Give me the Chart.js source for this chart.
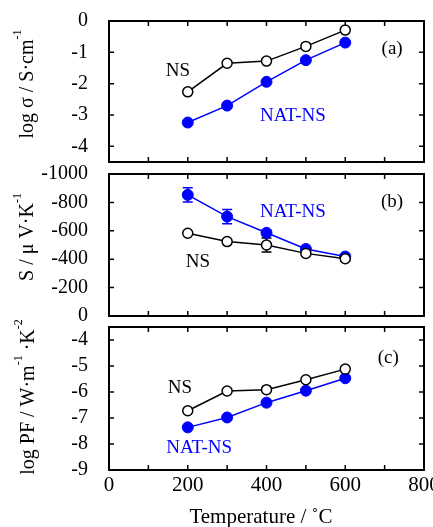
<!DOCTYPE html>
<html>
<head>
<meta charset="utf-8">
<script src="https://cdn.jsdelivr.net/npm/chart.js@4/dist/chart.umd.min.js"></script>
<style>
    html, body { margin: 0; padding: 0; background: #fff; }
    #wrap { position: relative; width: 433px; height: 527px; overflow: hidden; background: #fff; }
    canvas { position: absolute; left: 0; }
</style>
</head>
<body>
<div id="wrap">
    <canvas id="chartA" width="460" height="190" style="top:0px"></canvas>
    <canvas id="chartB" width="460" height="190" style="top:150px"></canvas>
    <canvas id="chartC" width="460" height="227" style="top:300px"></canvas>
</div>
<script>
const FONT = "'Liberation Serif', 'Times New Roman', serif";
const BLUE = '#0000ff';

// data
const temps = [200, 300, 400, 500, 600];
const sigmaNS = [-2.26, -1.35, -1.28, -0.81, -0.29];
const sigmaNAT = [-3.24, -2.70, -1.94, -1.25, -0.69];
const seebeckNS = [-583, -524, -500, -441, -403];
const seebeckNSErr = [0, 0, 50, 0, 15];
const seebeckNAT = [-853, -700, -586, -472, -419];
const seebeckNATErr = [50, 50, 18, 0, 0];
const pfNS = [-6.72, -5.96, -5.91, -5.53, -5.12];
const pfNAT = [-7.36, -6.98, -6.41, -5.95, -5.47];

// axes
const xTickLabels = [0, 200, 400, 600, 800];
const xMinorTicks = [0, 100, 200, 300, 400, 500, 600, 700, 800];
const sigmaTicks = [0, -1, -2, -3, -4];
const seebeckTicks = [0, -200, -400, -600, -800, -1000];
const pfTicks = [-4, -5, -6, -7, -8, -9];

Chart.defaults.color = '#000';
Chart.defaults.font.family = FONT;

const toPoints = (ys) => temps.map((t, i) => ({ x: t, y: ys[i] }));

// frame with inward ticks on all four sides
const framePlugin = {
    id: 'frame',
    afterDraw(chart, args, opts) {
        const { ctx, chartArea: a, scales: { x, y } } = chart;
        const len = 5;
        ctx.save();
        ctx.strokeStyle = '#000';
        ctx.lineWidth = 1.5;
        ctx.beginPath();
        xMinorTicks.forEach(v => {
            const px = x.getPixelForValue(v);
            ctx.moveTo(px, a.bottom); ctx.lineTo(px, a.bottom - len);
            ctx.moveTo(px, a.top); ctx.lineTo(px, a.top + len);
        });
        (opts.yTicks || []).forEach(v => {
            const py = y.getPixelForValue(v);
            ctx.moveTo(a.left, py); ctx.lineTo(a.left + len, py);
            ctx.moveTo(a.right, py); ctx.lineTo(a.right - len, py);
        });
        ctx.stroke();
        ctx.lineWidth = 2;
        ctx.strokeRect(a.left, a.top, a.width, a.height);
        ctx.restore();
    }
};

const errorPlugin = {
    id: 'errorBars',
    beforeDatasetsDraw(chart, args, opts) {
        const { ctx, scales: { x, y } } = chart;
        (opts.errors || []).forEach((errs, di) => {
            if (!errs) return;
            const ds = chart.data.datasets[di];
            ctx.save();
            ctx.strokeStyle = ds.borderColor;
            ctx.lineWidth = 1.5;
            ctx.beginPath();
            errs.forEach((e, j) => {
                if (!e) return;
                const px = x.getPixelForValue(temps[j]);
                const v = ds.data[j].y;
                const y1 = y.getPixelForValue(v - e);
                const y2 = y.getPixelForValue(v + e);
                ctx.moveTo(px, y1); ctx.lineTo(px, y2);
                ctx.moveTo(px - 5, y1); ctx.lineTo(px + 5, y1);
                ctx.moveTo(px - 5, y2); ctx.lineTo(px + 5, y2);
            });
            ctx.stroke();
            ctx.restore();
        });
    }
};

function drawRotated(ctx, parts, cx, cy, size) {
    ctx.save();
    ctx.translate(cx, cy);
    ctx.rotate(-Math.PI / 2);
    ctx.textBaseline = 'middle';
    ctx.textAlign = 'left';
    const fontOf = p => `${p.sup ? Math.round(size * 0.62) : size}px ${FONT}`;
    let total = 0;
    parts.forEach(p => { ctx.font = fontOf(p); total += ctx.measureText(p.t).width; });
    let px = -total / 2;
    parts.forEach(p => {
        ctx.font = fontOf(p);
        ctx.fillText(p.t, px, p.sup ? -size * 0.5 : 0);
        px += ctx.measureText(p.t).width;
    });
    ctx.restore();
}

// texts: series names, panel letters, axis titles
const notesPlugin = {
    id: 'notes',
    afterDraw(chart, args, opts) {
        const { ctx, scales: { x, y } } = chart;
        ctx.save();
        ctx.textAlign = 'center';
        ctx.textBaseline = 'middle';
        ctx.font = `19px ${FONT}`;
        (opts.items || []).forEach(it => {
            ctx.fillStyle = it.color || '#000';
            ctx.fillText(it.text, x.getPixelForValue(it.x), y.getPixelForValue(it.y));
        });
        if (opts.yTitle) {
            ctx.fillStyle = '#000';
            drawRotated(ctx, opts.yTitle.parts, opts.yTitle.cx, opts.yTitle.cy, 20);
        }
        if (opts.xTitle) {
            ctx.fillStyle = '#000';
            ctx.font = `21px ${FONT}`;
            ctx.fillText(opts.xTitle.text, opts.xTitle.cx, opts.xTitle.cy);
        }
        ctx.restore();
    }
};

function makePanel(id, cfg) {
    const showX = !!cfg.showX;
    new Chart(document.getElementById(id), {
        type: 'line',
        data: {
            datasets: [
                {
                    label: 'NS',
                    data: toPoints(cfg.ns),
                    borderColor: '#000',
                    backgroundColor: '#fff',
                    pointBackgroundColor: '#fff',
                    pointBorderColor: '#000',
                    pointBorderWidth: 1.5,
                    pointRadius: 5,
                    borderWidth: 1.5,
                    tension: 0
                },
                {
                    label: 'NAT-NS',
                    data: toPoints(cfg.nat),
                    borderColor: BLUE,
                    backgroundColor: BLUE,
                    pointBackgroundColor: BLUE,
                    pointBorderColor: BLUE,
                    pointBorderWidth: 1,
                    pointRadius: 5.5,
                    borderWidth: 1.5,
                    tension: 0
                }
            ]
        },
        options: {
            responsive: false,
            animation: false,
            events: [],
            layout: { padding: cfg.padding },
            scales: {
                x: {
                    type: 'linear',
                    min: 0,
                    max: 800,
                    display: showX,
                    grid: { display: false, drawTicks: false },
                    border: { display: false },
                    afterBuildTicks: s => { s.ticks = xTickLabels.map(v => ({ value: v })); },
                    afterFit: s => {
                        if (showX) s.height = 57;
                        s.paddingLeft = 0; s.paddingRight = 0;
                    },
                    ticks: { font: { size: 21 }, padding: 3, maxRotation: 0, callback: v => String(v) }
                },
                y: {
                    type: 'linear',
                    min: cfg.yMin,
                    max: cfg.yMax,
                    reverse: !!cfg.reverse,
                    grid: { display: false, drawTicks: false },
                    border: { display: false },
                    afterBuildTicks: s => { s.ticks = cfg.yTicks.map(v => ({ value: v })); },
                    afterFit: s => {
                        s.width = 109;
                        s.paddingTop = 0; s.paddingBottom = 0;
                    },
                    ticks: { font: { size: 20 }, padding: 21, callback: v => String(v) }
                }
            },
            plugins: {
                legend: { display: false },
                tooltip: { enabled: false },
                frame: { yTicks: cfg.yTicks },
                errorBars: { errors: cfg.errors || [] },
                notes: { items: cfg.notes, yTitle: cfg.yTitle, xTitle: cfg.xTitle }
            }
        },
        plugins: [framePlugin, errorPlugin, notesPlugin]
    });
}

makePanel('chartA', {
    ns: sigmaNS, nat: sigmaNAT,
    yMin: -4.5, yMax: 0, yTicks: sigmaTicks,
    padding: { left: 0, right: 36, top: 21, bottom: 28 },
    notes: [
        { text: '(a)', x: 719, y: -0.89 },
        { text: 'NS', x: 175, y: -1.6 },
        { text: 'NAT-NS', x: 467, y: -3.03, color: BLUE }
    ],
    yTitle: { parts: [{ t: 'log σ / S·cm' }, { t: '-1', sup: true }], cx: 28, cy: 84 }
});

makePanel('chartB', {
    ns: seebeckNS, nat: seebeckNAT,
    errors: [seebeckNSErr, seebeckNATErr],
    yMin: -1000, yMax: 0, reverse: true, yTicks: seebeckTicks,
    padding: { left: 0, right: 36, top: 24, bottom: 24 },
    notes: [
        { text: '(b)', x: 719, y: -802 },
        { text: 'NAT-NS', x: 467, y: -734, color: BLUE },
        { text: 'NS', x: 226, y: -381 }
    ],
    yTitle: { parts: [{ t: 'S / μ V·K' }, { t: '-1', sup: true }], cx: 28, cy: 87 }
});

makePanel('chartC', {
    ns: pfNS, nat: pfNAT,
    showX: true,
    yMin: -9, yMax: -3.5, yTicks: pfTicks,
    padding: { left: 0, right: 36, top: 27, bottom: 0 },
    notes: [
        { text: '(c)', x: 709, y: -4.69 },
        { text: 'NS', x: 180, y: -5.84 },
        { text: 'NAT-NS', x: 229, y: -8.16, color: BLUE }
    ],
    yTitle: { parts: [{ t: 'log PF / W·m' }, { t: '-1', sup: true }, { t: ' ·K' }, { t: '-2', sup: true }], cx: 29, cy: 97 },
    xTitle: { text: 'Temperature / ˚C', cx: 261, cy: 217 }
});
</script>
</body>
</html>
